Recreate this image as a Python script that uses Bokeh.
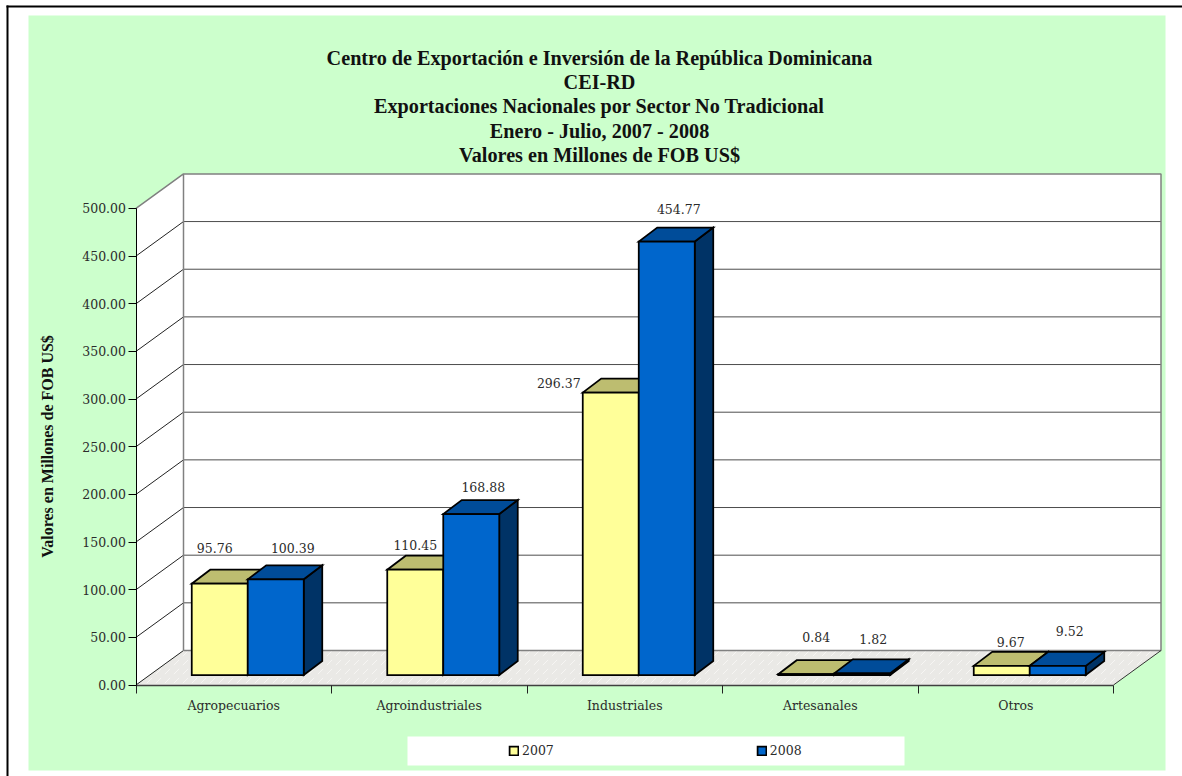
from bokeh.plotting import figure
from bokeh.models import (ColumnDataSource, Range1d, LinearAxis, FixedTicker, NumeralTickFormatter,
                          Label, BoxAnnotation, Legend, LegendItem)
from bokeh.core.properties import value
from bokeh.embed import file_html
from bokeh.resources import INLINE
import math

categories = ["Agropecuarios", "Agroindustriales", "Industriales", "Artesanales", "Otros"]
v2007 = [95.76, 110.45, 296.37, 0.84, 9.67]
v2008 = [100.39, 168.88, 454.77, 1.82, 9.52]
y_ticks = [0, 50, 100, 150, 200, 250, 300, 350, 400, 450, 500]
title_lines = ["Centro de Exportación e Inversión de la República Dominicana", "CEI-RD",
               "Exportaciones Nacionales por Sector No Tradicional", "Enero - Julio, 2007 - 2008",
               "Valores en Millones de FOB US$"]
y_title = "Valores en Millones de FOB US$"

# label placement relative to the top-centre of each bar's front face (px)
lab07_dx = [-5, 0, -52, 10, 9]
lab07_dy = [36, 25, 10, 37, 24]
lab08_dx = [17, 12, 12, 11, 12]
lab08_dy = [31, 27, 33, 34, 35]

W, H = 1182, 776
ML, MB = 135.5, 91.5
CAT_PX = 195.5
VAL_PX = 0.9532

DX, DY = 47.5 / CAT_PX, 34.5 / VAL_PX        # floor depth
BAR_W = 56 / CAT_PX
BZX, BZY = 14 / CAT_PX, 10 / VAL_PX          # bar setback on the floor
BDX, BDY = 18.5 / CAT_PX, 14 / VAL_PX        # bar depth

GREEN = "#CCFFCC"
SERIF = "DejaVu Serif"
TITLE_FONT = "Liberation Serif"
TXT = "#2b2b2b"
SMALL = "12.5px"

p = figure(width=W, height=H, output_backend="svg", toolbar_location=None,
           x_range=Range1d(-ML / CAT_PX, (W - ML) / CAT_PX),
           y_range=Range1d(-MB / VAL_PX, (H - MB) / VAL_PX),
           x_axis_type=None, y_axis_type=None,
           min_border_left=0, min_border_right=0, min_border_top=0, min_border_bottom=0,
           background_fill_color="white", border_fill_color="white", outline_line_color=None)
p.grid.visible = False


def xd(px):
    return (px - ML) / CAT_PX


def yd(py):
    return (H - MB - py) / VAL_PX


def box(l, r, t, b, color):
    p.add_layout(BoxAnnotation(left=xd(l), right=xd(r), top=yd(t), bottom=yd(b),
                               fill_color=color, fill_alpha=1, line_color=None, level="underlay"))


box(28, 1165, 15, 770, GREEN)
box(6, 1182, 5, 7, "black")        # page frame rule
box(6, 8, 5, 776, "black")
box(407, 904, 736, 765, "white")    # legend panel

n = len(categories)
top_v = y_ticks[-1]
# walls and floor
p.patch([DX, n + DX, n + DX, DX], [DY, DY, top_v + DY, top_v + DY], fill_color="white", line_color=None)
p.patch([0, DX, DX, 0], [0, DY, top_v + DY, top_v], fill_color="white", line_color=None)
p.patch([0, n, n + DX, DX], [0, 0, DY, DY], fill_color="#EAE9E6", line_color=None,
        hatch_pattern="right_diagonal_dash", hatch_color="#F6F5F3", hatch_scale=9, hatch_weight=1)

# gridlines
grid_vals = y_ticks[1:-1]
p.multi_line([[DX, n + DX] for v in grid_vals], [[v + DY, v + DY] for v in grid_vals],
             line_color="#4d4d4d", line_width=1)
p.multi_line([[0, DX] for v in y_ticks[:-1]], [[v, v + DY] for v in y_ticks[:-1]],
             line_color="#222222", line_width=1)
p.line([0, DX, n + DX, n + DX, DX, DX], [top_v, top_v + DY, top_v + DY, DY, DY, top_v + DY],
       line_color="#808080", line_width=1.5)
p.line([n, n + DX], [0, DY], line_color="#333333", line_width=1)


def bar_faces(vals, k):
    fx, fy, tx, ty, sx, sy = [], [], [], [], [], []
    cx, cy = [], []
    for i, v in enumerate(vals):
        x0 = i + 0.5 + BZX + (k - 1) * BAR_W
        x1 = x0 + BAR_W
        y0 = BZY
        y1 = BZY + v
        fx.append([x0, x1, x1, x0])
        fy.append([y0, y0, y1, y1])
        tx.append([x0, x1, x1 + BDX, x0 + BDX])
        ty.append([y1, y1, y1 + BDY, y1 + BDY])
        sx.append([x1, x1 + BDX, x1 + BDX, x1])
        sy.append([y0, y0 + BDY, y1 + BDY, y1])
        cx.append((x0 + x1) / 2)
        cy.append(y1)
    return fx, fy, tx, ty, sx, sy, cx, cy


def draw(vals, k, front, top, side):
    fx, fy, tx, ty, sx, sy, cx, cy = bar_faces(vals, k)
    kw = dict(line_color="black", line_width=1.75, line_join="miter")
    p.patches(sx, sy, fill_color=side, **kw)
    p.patches(tx, ty, fill_color=top, **kw)
    r = p.patches(fx, fy, fill_color=front, **kw)
    return r, cx, cy


r07, cx07, cy07 = draw(v2007, 0, "#FFFF99", "#BDBD70", "#808050")
r08, cx08, cy08 = draw(v2008, 1, "#0066CC", "#004C99", "#003366")


def labels(vals, cx, cy, dx, dy):
    src = ColumnDataSource(dict(x=cx, y=cy, t=[f"{v:.2f}" for v in vals], dx=dx, dy=[-d for d in dy]))
    p.text("x", "y", text="t", source=src, x_offset="dx", y_offset="dy", text_align="center",
           text_baseline="middle", text_font=value(SERIF), text_font_size=SMALL, text_color=TXT)


labels(v2007, cx07, cy07, lab07_dx, lab07_dy)
labels(v2008, cx08, cy08, lab08_dx, lab08_dy)

# axes
ya = LinearAxis(bounds=(0, top_v), fixed_location=0, ticker=FixedTicker(ticks=y_ticks),
                formatter=NumeralTickFormatter(format="0.00"))
ya.major_tick_in = 0
ya.major_tick_out = 8
ya.minor_tick_line_color = None
ya.major_label_standoff = 2
ya.major_label_text_font = SERIF
ya.major_label_text_font_size = SMALL
ya.major_label_text_color = TXT
ya.axis_line_color = "black"
ya.major_tick_line_color = "black"
p.add_layout(ya, "left")

xa = LinearAxis(bounds=(0, n), fixed_location=0,
                ticker=FixedTicker(ticks=[i + 0.5 for i in range(n)], minor_ticks=list(range(n + 1))))
xa.major_label_overrides = {i + 0.5: c for i, c in enumerate(categories)}
xa.major_tick_line_color = None
xa.major_tick_in = 0
xa.major_tick_out = 0
xa.minor_tick_in = 0
xa.minor_tick_out = 8
xa.minor_tick_line_color = "#222222"
xa.axis_line_color = "#404040"
xa.axis_line_width = 1.5
xa.major_label_standoff = 5
xa.major_label_text_font = SERIF
xa.major_label_text_font_size = SMALL
xa.major_label_text_color = TXT
p.add_layout(xa, "below")

# titles
for i, line in enumerate(title_lines):
    p.add_layout(Label(x=xd(599), y=yd(57 + i * 24.4), text=line, text_align="center", text_baseline="middle",
                       text_font=TITLE_FONT, text_font_style="bold", text_font_size="20.2px", text_color="#111111"))
p.add_layout(Label(x=xd(47), y=yd(446), text=y_title, angle=math.pi / 2, text_align="center",
                   text_baseline="middle", text_font=TITLE_FONT, text_font_style="bold", text_font_size="16px",
                   text_color="#111111"))

legend = Legend(items=[LegendItem(label="2007", renderers=[r07]), LegendItem(label="2008", renderers=[r08])],
                orientation="horizontal", location=(508, 18),
                glyph_width=11, glyph_height=11, label_standoff=3, spacing=202, padding=0, margin=0,
                background_fill_alpha=0, border_line_color=None,
                label_text_font=SERIF, label_text_font_size=SMALL, label_text_color=TXT)
p.add_layout(legend)

open("out.html", "w").write(file_html(p, INLINE))
